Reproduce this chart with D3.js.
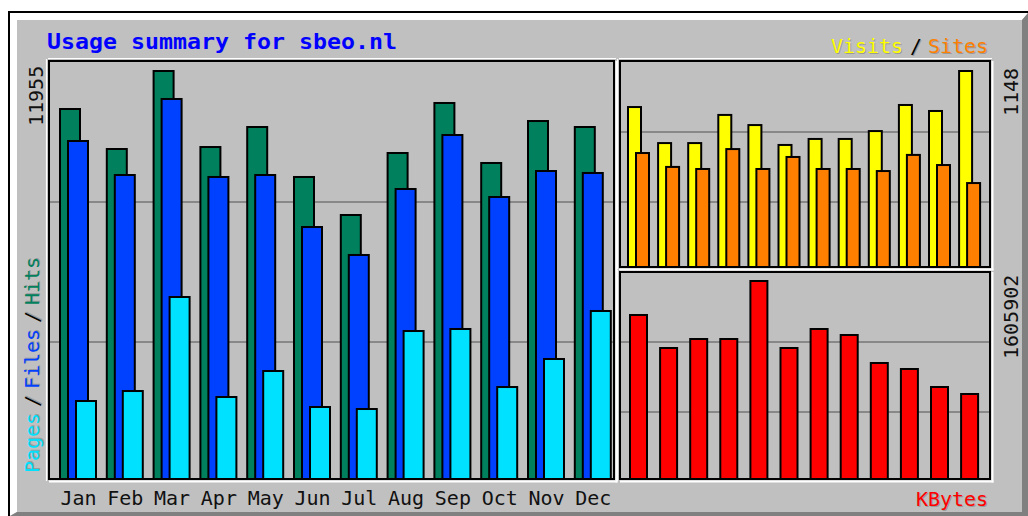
<!DOCTYPE html>
<html><head><meta charset="utf-8">
<script src="https://cdn.jsdelivr.net/npm/d3@7/dist/d3.min.js"></script>
<style>html,body{margin:0;padding:0;background:#fff;}svg{display:block;}</style>
</head><body>
<svg id="c" width="1028" height="516"></svg>
<script>
const months = ["Jan","Feb","Mar","Apr","May","Jun","Jul","Aug","Sep","Oct","Nov","Dec"];
const hits   = [10844, 9675, 11955, 9733, 10318, 8857, 7746, 9558, 11020, 9266, 10493, 10318];
const files  = [9909, 8915, 11137, 8857, 8915, 7395, 6577, 8506, 10084, 8272, 9032, 8974];
const pages  = [2309, 2601, 5349, 2426, 3186, 2134, 2075, 4355, 4414, 2718, 3537, 4940];
const visits = [938, 728, 728, 892, 833, 717, 752, 752, 798, 950, 915, 1148];
const sites  = [670, 589, 577, 693, 577, 647, 577, 577, 565, 659, 600, 495];
const kbytes = [1331528, 1065222, 1137849, 1137849, 1605902, 1065222, 1218548, 1170130, 944177, 895758, 750501, 694011];
const maxLabels = ["11955", "1148", "1605902"];

const svg = d3.select("#c");
const GRAY = "#c0c0c0", DK = "#808080", SH = "#9a9a9a";
const MONO = "'DejaVu Sans Mono', 'Liberation Mono', monospace";

// frame
svg.append("rect").attr("x",10).attr("y",13).attr("width",1018).attr("height",503).attr("fill",GRAY);
svg.append("polygon").attr("points","10,13 1028,13 1022,20 17,20 17,512 10,516").attr("fill","#ffffff");
svg.append("polygon").attr("points","1028,13 1028,516 10,516 17,512 1022,512 1022,20").attr("fill",DK);
svg.append("rect").attr("x",17).attr("y",20).attr("width",1005).attr("height",492).attr("fill",GRAY);
svg.append("line").attr("x1",8).attr("x2",1028).attr("y1",12).attr("y2",12).attr("stroke","#000").attr("stroke-width",2);
svg.append("line").attr("x1",9).attr("x2",9).attr("y1",11).attr("y2",516).attr("stroke","#000").attr("stroke-width",2);

const panels = {
  main: {x0:49, y0:61, x1:614, y1:479, grid:[202,342]},
  tr:   {x0:620, y0:61, x1:990, y1:267, grid:[132,202]},
  br:   {x0:620, y0:272, x1:990, y1:479, grid:[342,412]}
};
Object.values(panels).forEach(p => {
  p.grid.forEach(g => svg.append("line").attr("x1",p.x0).attr("x2",p.x1).attr("y1",g).attr("y2",g)
     .attr("stroke","#888").attr("stroke-width",2));
});

// scales
const xMain = d3.scaleBand().domain(months).range([59, 59 + 12*46.8]).padding(0);
const xRight = d3.scaleBand().domain(months).range([627, 627 + 12*30.1]).padding(0);
const yMain = d3.scaleLinear().domain([0, d3.max(hits)]).range([479, 70]);
const yTR = d3.scaleLinear().domain([0, d3.max(visits)]).range([267, 70]);
const yBR = d3.scaleLinear().domain([0, d3.max(kbytes)]).range([479, 280]);

function bars(data, x, y, off, w, color, base) {
  svg.append("g").selectAll("rect").data(data).join("rect")
    .attr("x", (d,i) => x(months[i]) + off + 1)
    .attr("y", d => y(d) + 1)
    .attr("width", w - 2)
    .attr("height", d => base - y(d) - 1)
    .attr("fill", color).attr("stroke","#000").attr("stroke-width",2);
}
bars(hits, xMain, yMain, 0, 22, "#00805c", 479);
bars(files, xMain, yMain, 8, 22, "#0040ff", 479);
bars(pages, xMain, yMain, 16, 22, "#00e0ff", 479);
bars(visits, xRight, yTR, 0, 15, "#ffff00", 267);
bars(sites, xRight, yTR, 8, 15, "#ff8000", 267);
bars(kbytes, xRight, yBR, 2, 19, "#ff0000", 479);

// panel borders
Object.values(panels).forEach(p => {
  svg.append("line").attr("x1",p.x0-1).attr("x2",p.x1+2).attr("y1",p.y0-2.5).attr("y2",p.y0-2.5).attr("stroke","#fff").attr("stroke-width",1.2);
  svg.append("line").attr("x1",p.x0-2.5).attr("x2",p.x0-2.5).attr("y1",p.y0-2).attr("y2",p.y1+2).attr("stroke","#fff").attr("stroke-width",1.2);
  svg.append("rect").attr("x",p.x0).attr("y",p.y0).attr("width",p.x1-p.x0).attr("height",p.y1-p.y0)
    .attr("fill","none").attr("stroke","#000").attr("stroke-width",2);
  svg.append("line").attr("x1",p.x0).attr("x2",p.x1+3.5).attr("y1",p.y1+2.5).attr("y2",p.y1+2.5).attr("stroke","#fff").attr("stroke-width",2);
  svg.append("line").attr("x1",p.x1+2.5).attr("x2",p.x1+2.5).attr("y1",p.y0).attr("y2",p.y1+3.5).attr("stroke","#fff").attr("stroke-width",2);
});

// text helper with gd-like shadow
function txt(s, x, y, color, opts={}) {
  const g = svg.append("g");
  const mk = (dx, dy, c) => {
    const t = g.append("text").attr("x", x+dx).attr("y", y+dy).text(s)
      .attr("fill", c).attr("font-family", MONO).attr("font-size", opts.size || 20)
      .attr("font-weight", opts.bold ? "bold" : "normal")
      .attr("text-anchor", opts.anchor || "start");
    if (opts.len) t.attr("textLength", opts.len).attr("lengthAdjust","spacingAndGlyphs");
    if (opts.rot) t.attr("transform", `rotate(-90 ${x+dx} ${y+dy})`);
    return t;
  };
  if (opts.shadow) mk(1, opts.rot ? -1 : 1, opts.shadow);
  mk(0, 0, color);
}

txt("Usage summary for sbeo.nl", 47, 49, "#0000ff", {bold:true, size:22, len:350});
txt("Visits", 831, 53, "#ffff00", {shadow:SH, len:72});
txt("/", 910, 53, "#000", {shadow:SH, len:12});
txt("Sites", 928, 53, "#ff8000", {shadow:SH, len:60});
txt("KBytes", 916, 506, "#ff0000", {shadow:SH, len:72});

// month labels
svg.append("g").selectAll("text").data(months).join("text")
  .attr("x", m => xMain(m) + 19.5).attr("y", 505).attr("text-anchor","middle")
  .attr("font-family", MONO).attr("font-size", 20).attr("fill","#111").text(m => m);

// vertical legend (reads bottom to top)
txt("Pages", 39, 473, "#00e0ff", {rot:true, shadow:SH, len:60});
txt("/", 39, 407, "#000", {rot:true, shadow:SH, len:12});
txt("Files", 39, 389, "#0040ff", {rot:true, shadow:SH, len:60});
txt("/", 39, 323, "#000", {rot:true, shadow:SH, len:12});
txt("Hits", 39, 305, "#00805c", {rot:true, shadow:SH, len:48});

// max value labels
txt(maxLabels[0], 43, 126, "#111", {rot:true});
txt(maxLabels[1], 1018, 116, "#111", {rot:true});
txt(maxLabels[2], 1018, 359, "#111", {rot:true});
</script>
</body></html>
